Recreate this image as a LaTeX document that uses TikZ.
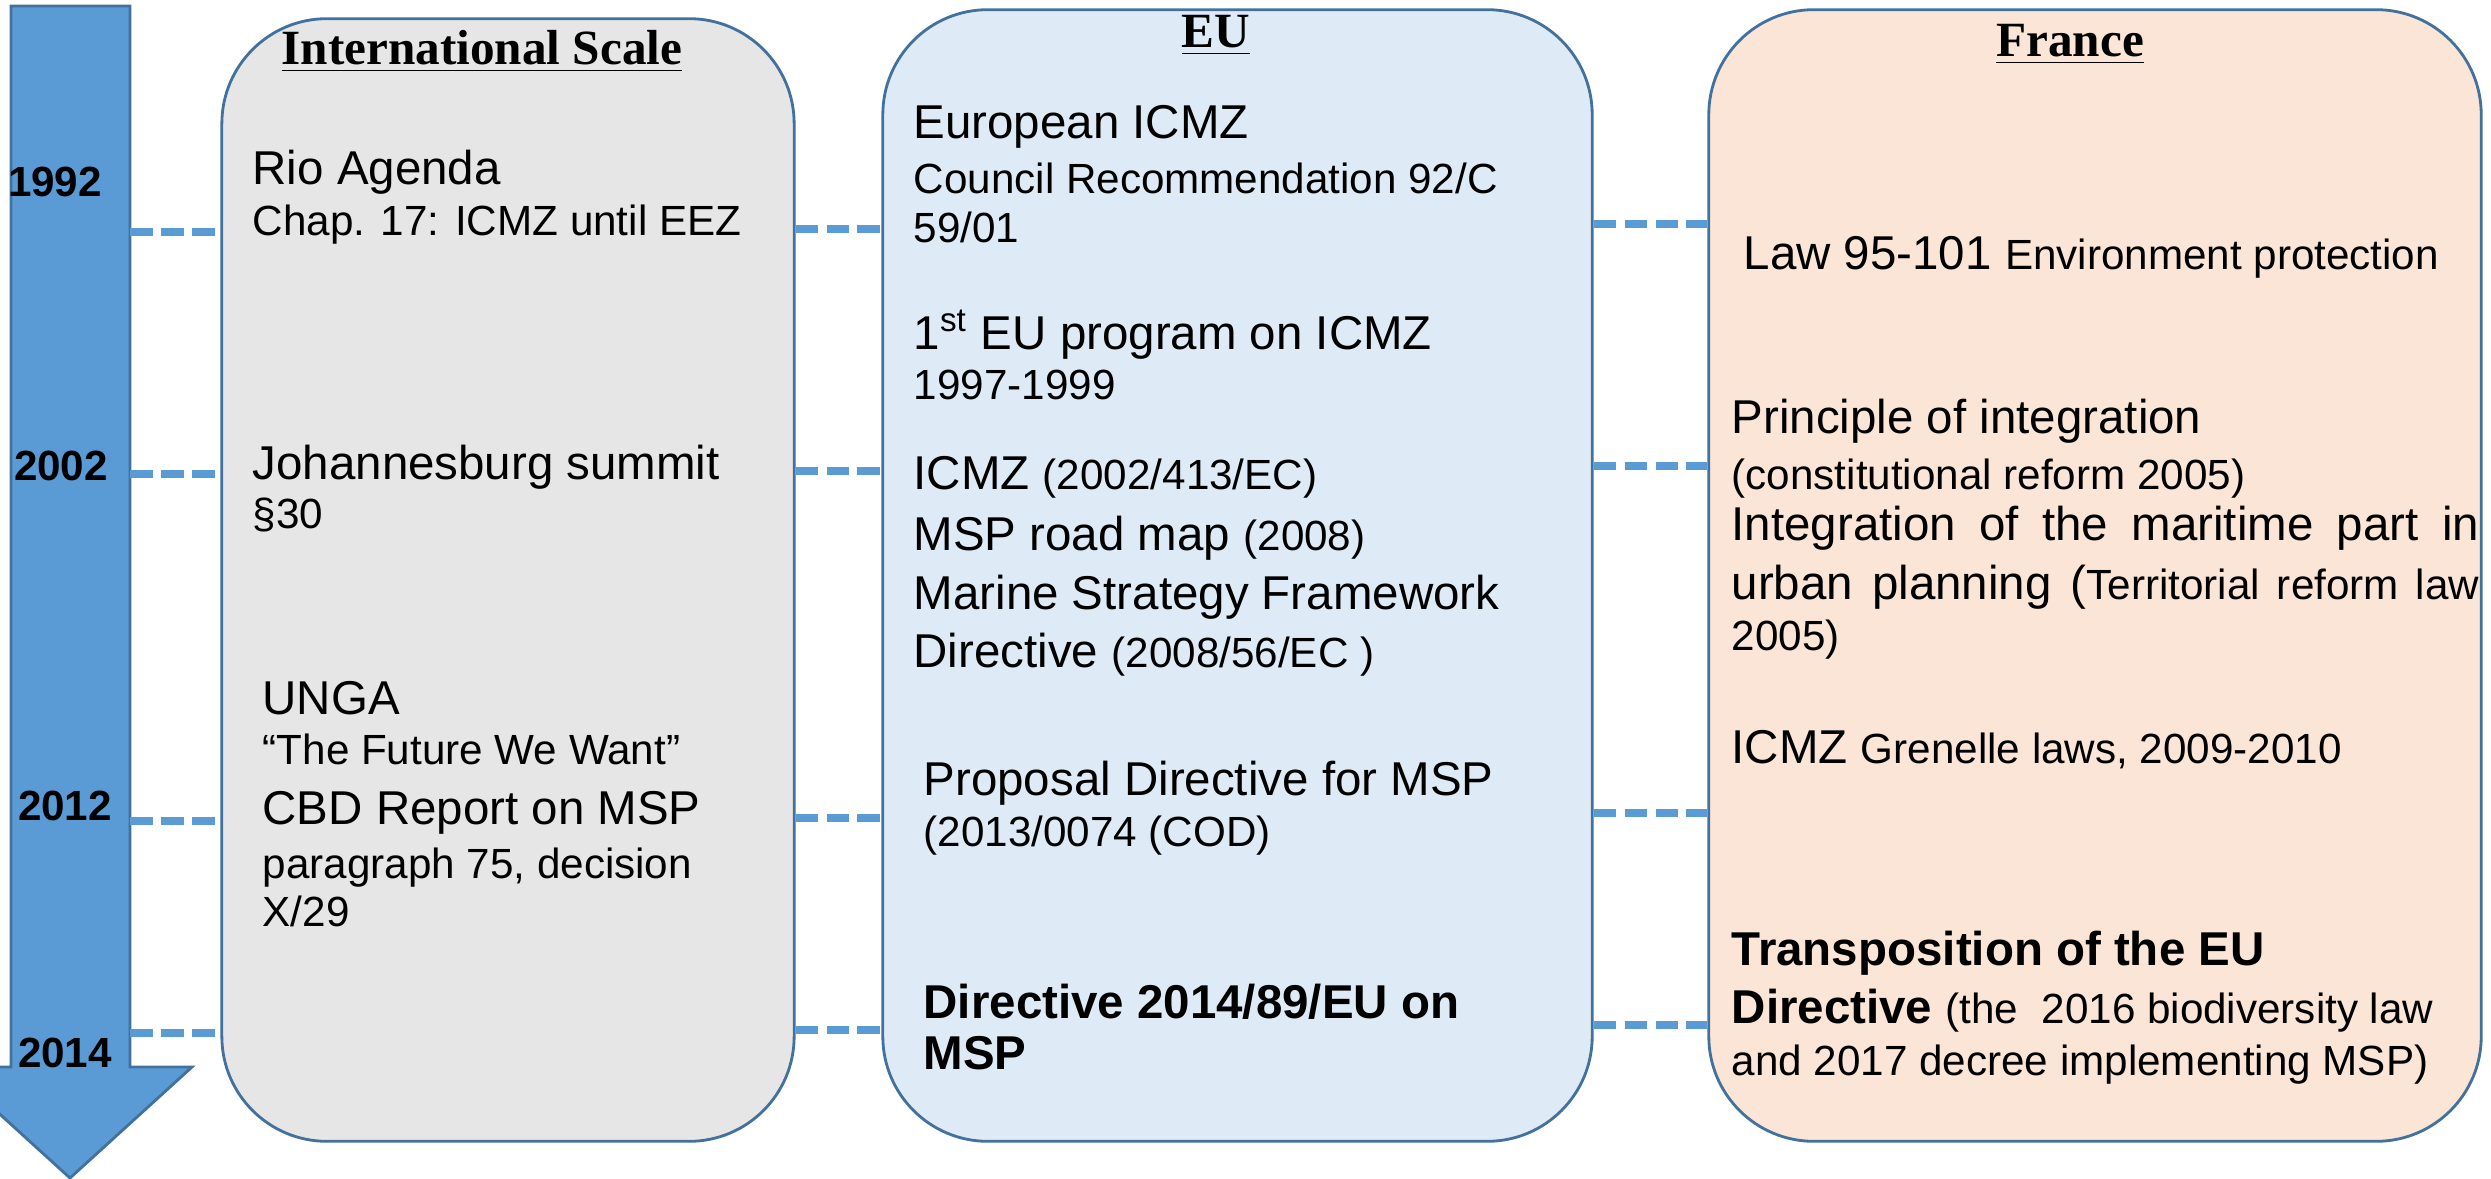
\documentclass[tikz,border=0pt]{standalone}
\usepackage{fontspec}
\setmainfont{Liberation Sans}
\newfontfamily\titlefont{Liberation Serif}

\definecolor{timeblue}{HTML}{5B9BD5}
\definecolor{edgeblue}{HTML}{41719C}
\definecolor{intlfill}{HTML}{E6E6E6}
\definecolor{eufill}{HTML}{DEEBF7}
\definecolor{frfill}{HTML}{FBE5D6}

\newcommand{\lgtxt}{\fontsize{13.5}{14}\selectfont}
\newcommand{\smtxt}{\fontsize{12}{14}\selectfont}

\begin{document}
\begin{tikzpicture}[x=0.01cm, y=-0.01cm,
    panel/.style={rectangle, rounded corners=1.05cm, draw=edgeblue, line width=0.8pt},
    year/.style={font=\bfseries\fontsize{12}{14}\selectfont},
    heading/.style={anchor=base, font=\titlefont\bfseries\fontsize{14}{16}\selectfont},
    entry/.style={anchor=north west, inner sep=0pt, align=left, font=\lgtxt},
    link/.style={draw=timeblue, line width=2.2pt, dash pattern=on 6.5pt off 2.3pt}]
  \useasboundingbox (0,0) rectangle (2491,1179);
  \clip (0,0) rectangle (2491,1179);

  % time arrow
  \draw[fill=timeblue, draw=edgeblue, line width=0.8pt]
    (11,6) -- (130,6) -- (130,1067) -- (192,1067) -- (70,1178) -- (-52,1067) -- (11,1067) -- cycle;
  \coordinate (shaft) at (130,6);

  \node[year] (y1992) at (55,182) {1992};
  \node[year] (y2002) at (61,466) {2002};
  \node[year] (y2012) at (65,806) {2012};
  \node[year] (y2014) at (65,1053) {2014};

  % the three scales
  \node[panel, fill=intlfill, minimum width=5.72cm, minimum height=11.22cm] (intl) at (508,580) {};
  \node[panel, fill=eufill, minimum width=7.09cm, minimum height=11.31cm] (eu) at (1237.5,575.5) {};
  \node[panel, fill=frfill, minimum width=7.72cm, minimum height=11.31cm] (france) at (2095,575.5) {};

  % dashed year lines
  \coordinate (l1992) at (0,229);
  \coordinate (l2002) at (0,471);
  \coordinate (l2012) at (0,818);
  \coordinate (l2014) at (0,1030);
  \draw[link] ([yshift=-0.03cm]shaft |- l1992) -- ([yshift=-0.03cm]intl.west |- l1992);
  \draw[link] ([yshift=-0.03cm]shaft |- l2002) -- ([yshift=-0.03cm]intl.west |- l2002);
  \draw[link] ([yshift=-0.03cm]shaft |- l2012) -- ([yshift=-0.03cm]intl.west |- l2012);
  \draw[link] ([yshift=-0.03cm]shaft |- l2014) -- ([yshift=-0.03cm]intl.west |- l2014);
  \draw[link] (intl.east |- l1992) -- (eu.west |- l1992);
  \draw[link] (intl.east |- l2002) -- (eu.west |- l2002);
  \draw[link] (intl.east |- l2012) -- (eu.west |- l2012);
  \draw[link] (intl.east |- l2014) -- (eu.west |- l2014);
  \draw[link] ([yshift=0.05cm]eu.east |- l1992) -- ([yshift=0.05cm]france.west |- l1992);
  \draw[link] ([yshift=0.05cm]eu.east |- l2002) -- ([yshift=0.05cm]france.west |- l2002);
  \draw[link] ([yshift=0.05cm]eu.east |- l2012) -- ([yshift=0.05cm]france.west |- l2012);
  \draw[link] ([yshift=0.05cm]eu.east |- l2014) -- ([yshift=0.05cm]france.west |- l2014);

  % headings
  \node[heading] (intltitle) at (482,65) {\underline{International Scale}};
  \node[heading] (eutitle) at (1216,48) {\underline{EU}};
  \node[heading] (frtitle) at (2070,57) {\underline{France}};

  % international scale
  \node[entry] (rio) at (252,149) {Rio Agenda\\[0.5pt] {\smtxt Chap. 17: ICMZ until EEZ}};
  \node[entry] (joburg) at (252,444) {Johannesburg summit\\ {\smtxt §30}};
  \node[entry] (unga) at (262,681) {UNGA\\ {\smtxt “The Future We Want”}\\[3.3pt]
      CBD Report on MSP\\[1.2pt] {\smtxt paragraph 75, decision}\\[-0.4pt] {\smtxt X/29}};

  % EU
  \node[entry] (euicmz) at (913,105) {European ICMZ\\[1.6pt]
      {\smtxt Council Recommendation 92/C}\\ {\smtxt 59/01}};
  \node[entry] (program) at (913,316) {1\smash{\textsuperscript{st}} EU program on ICMZ\\ {\smtxt 1997-1999}};
  \node[entry] (icmz) at (913,456) {ICMZ {\smtxt (2002/413/EC)}\\[3.3pt]
      MSP road map {\smtxt (2008)}\\[2.7pt] Marine Strategy Framework\\[2.5pt]
      Directive {\smtxt (2008/56/EC )}};
  \node[entry] (proposal) at (923,760) {Proposal Directive for MSP\\[0.7pt] {\smtxt (2013/0074 (COD)}};
  \node[entry, font=\lgtxt\bfseries] (msp) at (923,983) {Directive 2014/89/EU on\\[0.5pt] MSP};

  % France
  \node[entry] (law) at (1743,236) {Law 95-101 {\smtxt Environment protection}};
  \node[entry] (principle) at (1731,398) {Principle of integration\\[1.9pt]
      {\smtxt (constitutional reform 2005)}\\[0.7pt]
      \makebox[7.47cm][s]{Integration of the maritime part in}\\[2.7pt]
      \makebox[7.47cm][s]{urban planning ({\smtxt Territorial reform law}}\\[0.5pt]
      {\smtxt 2005)}};
  \node[entry] (grenelle) at (1731,730) {ICMZ {\smtxt Grenelle laws, 2009-2010}};
  \node[entry] (transpo) at (1731,930) {\textbf{Transposition of the EU}\\[2.7pt]
      \textbf{Directive} {\smtxt (the\ \ 2016 biodiversity law}\\[0.7pt]
      {\smtxt and 2017 decree implementing MSP)}};
\end{tikzpicture}
\end{document}
